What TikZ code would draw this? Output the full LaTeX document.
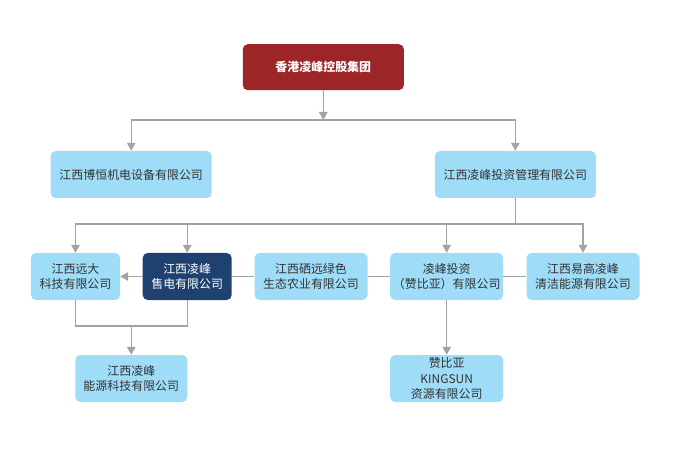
\documentclass[tikz,border=0pt]{standalone}
\usepackage{fontspec}
\setmainfont{Noto Sans CJK SC}
\usepackage{tikz}
\usetikzlibrary{arrows.meta, positioning, calc}
\definecolor{lfred}{HTML}{9C2528}
\definecolor{lfnavy}{HTML}{1F4170}
\definecolor{lfsky}{HTML}{9EDCF8}
\definecolor{lfline}{HTML}{A3A3A5}
\definecolor{lftext}{HTML}{333333}

\begin{document}
\begin{tikzpicture}[
  x=1bp, y=-1bp,
  >={Triangle[width=8.5bp,length=8bp]},
  every node/.style={font=\fontsize{12}{14.5}\selectfont},
  unit/.style={fill=lfsky, text=lftext, rounded corners=5bp,
               minimum height=47bp, align=center, inner sep=2bp},
  link/.style={draw=lfline, line width=1.4bp},
  arrow/.style={link, ->}
]
\useasboundingbox (0,0) rectangle (683,452);

%% Holding group
\node[fill=lfred, text=white, rounded corners=5bp, font=\fontsize{12}{14.5}\selectfont\bfseries,
      minimum width=161bp, minimum height=46bp]
  (jt) at (323.3, 67.2) {香港凌峰控股集团};

%% Second level
\node[unit, minimum width=161bp] (bh) at (131.2, 174.5) {江西博恒机电设备有限公司};
\node[unit, minimum width=161bp] (tz) at (515.3, 174.5) {江西凌峰投资管理有限公司};

%% Third level
\node[unit, minimum width=89bp] (yd) at (75.5, 276.5) {江西远大\\科技有限公司};
\node[unit, minimum width=89bp, fill=lfnavy, text=white]
  (sd) at (187.2, 276.5) {江西凌峰\\售电有限公司};
\node[unit, minimum width=113bp] (xx) at (311, 276.5) {江西硒远绿色\\生态农业有限公司};
\node[unit, minimum width=113bp] (zb) at (446.7, 276.5) {凌峰投资\\（赞比亚）有限公司};
\node[unit, minimum width=113bp] (yg) at (583, 276.5) {江西易高凌峰\\清洁能源有限公司};

%% Fourth level
\node[unit, minimum width=112bp] (ny) at (131.3, 378.5) {江西凌峰\\能源科技有限公司};
\node[unit, minimum width=113bp, font=\fontsize{12}{15.5}\selectfont]
  (ks) at (446.7, 378.5) {赞比亚\\KINGSUN\\资源有限公司};

%% Junctions
\coordinate (j1) at (323.3, 120);
\coordinate (j2) at (515.3, 224);
\coordinate (j3) at (131.3, 326);

%% Group to second level
\draw[arrow] (jt.south) -- (j1);
\draw[arrow] (j1) -| (bh.north);
\draw[arrow] (j1) -| (tz.north);

%% Investment company to third level
\draw[link]  (tz.south) -- (j2);
\draw[arrow] (j2) -| (yd.north);
\draw[arrow] (j2) -| (sd.north);
\draw[arrow] (j2) -| (zb.north);
\draw[arrow] (j2) -| (yg.north);

%% Row links
\draw[arrow] (sd.west) -- (yd.east);
\draw[link]  (sd.east) -- (xx.west);
\draw[link]  (xx.east) -- (zb.west);
\draw[link]  (zb.east) -- (yg.west);

%% Fourth level links
\draw[link]  (yd.south) -- (yd.south |- j3) -- (sd.south |- j3) -- (sd.south);
\draw[arrow] (j3) -- (ny.north);
\draw[arrow] (zb.south) -- (ks.north);

\end{tikzpicture}
\end{document}
